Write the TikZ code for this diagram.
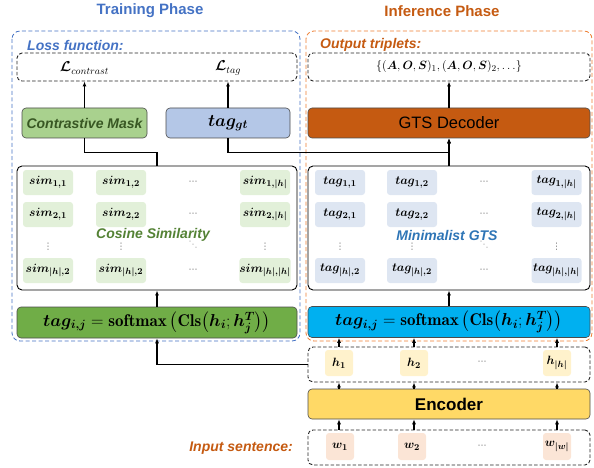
\documentclass[tikz,border=0pt]{standalone}
\usepackage{fontspec}
\usepackage{amsmath,bm}
\newfontfamily\arial{Liberation Sans}
\newfontfamily\dejavu{DejaVu Sans}
\usetikzlibrary{arrows.meta}
\definecolor{tblue}{HTML}{4472C4}
\definecolor{torange}{HTML}{C55A11}
\definecolor{oborder}{HTML}{ED7D31}
\definecolor{cosgreen}{HTML}{548235}
\definecolor{gtsblue}{HTML}{2E75B6}
\definecolor{cmtext}{HTML}{385723}
\definecolor{cmfill}{HTML}{A9D18E}
\definecolor{gtfill}{HTML}{B4C7E7}
\definecolor{decfill}{HTML}{C55A11}
\definecolor{smgreen}{HTML}{70AD47}
\definecolor{smblue}{HTML}{00B0F0}
\definecolor{encfill}{HTML}{FFD966}
\definecolor{hfill}{HTML}{FFF2CC}
\definecolor{wfill}{HTML}{FBE5D6}
\definecolor{simfill}{HTML}{E2F0D9}
\definecolor{tagfill}{HTML}{DEE6F2}
\tikzset{
  phasebox/.style={line width=0.8pt, dash pattern=on 4pt off 2.5pt, rounded corners=8pt},
  dbox/.style={draw=black!85, line width=0.9pt, dash pattern=on 3.5pt off 2pt, rounded corners=5pt, inner sep=0pt},
  cbox/.style={draw=black!70, line width=0.6pt, rounded corners=4pt, inner sep=0pt},
  mbox/.style={draw=black, line width=0.9pt, rounded corners=5pt, inner sep=0pt, minimum width=280pt, minimum height=124pt},
  cell/.style={rounded corners=3pt, minimum width=50pt, minimum height=25pt, inner sep=0pt, font=\fontsize{12.5}{14}\selectfont},
  simcell/.style={cell, fill=simfill},
  tagcell/.style={cell, fill=tagfill},
  hcell/.style={rounded corners=3pt, minimum width=28pt, minimum height=26pt, inner sep=0pt, fill=hfill, font=\fontsize{12.5}{14}\selectfont},
  wcell/.style={rounded corners=3pt, minimum width=28pt, minimum height=27pt, inner sep=0pt, fill=wfill, font=\fontsize{12.5}{14}\selectfont},
  lab/.style={inner sep=0pt, font=\arial\bfseries\itshape\fontsize{14}{16}\selectfont},
  dots/.style={inner sep=0pt, text=black!55, font=\dejavu\fontsize{9}{10}\selectfont},
  arr/.style={-{Latex[length=5pt,width=4pt]}, line width=1.1pt},
  conn/.style={line width=1.1pt}
}
\begin{document}
\begin{tikzpicture}[x=1pt,y=-1pt]
\useasboundingbox (0,0) rectangle (594,468);
% titles
\node[inner sep=0pt, text=tblue, font=\arial\bfseries\fontsize{15}{17}\selectfont] (ttrain) at (150,11) {Training Phase};
\node[inner sep=0pt, text=torange, font=\arial\bfseries\fontsize{15}{17}\selectfont] (tinf) at (442,11) {Inference Phase};
% phase boxes
\draw[phasebox, draw=tblue] (12,31) rectangle (300,341);
\draw[phasebox, draw=oborder] (306,31) rectangle (592,341);
% labels
\node[lab, text=tblue, anchor=west] (losslab) at (27,45) {Loss function:};
\node[lab, text=torange, anchor=west] (outlab) at (320,45) {Output triplets:};
\node[lab, text=torange, anchor=east] (inlab) at (293,448) {Input sentence:};
% top boxes
\node[dbox, minimum width=280pt, minimum height=28pt] (loss) at (157,67) {};
\node[inner sep=0pt, font=\fontsize{14}{16}\selectfont] (lc) at (84.5,68) {$\bm{\mathcal{L}}_{contrast}$};
\node[inner sep=0pt, font=\fontsize{14}{16}\selectfont] (lt) at (228,68) {$\bm{\mathcal{L}}_{tag}$};
\node[dbox, minimum width=282pt, minimum height=28pt, font=\fontsize{12.5}{14}\selectfont] (out) at (449,67) {$\{(\bm{A},\bm{O},\bm{S})_1,(\bm{A},\bm{O},\bm{S})_2,\ldots\}$};
% middle boxes
\node[cbox, fill=cmfill, minimum width=125pt, minimum height=30pt, text=cmtext, font=\arial\bfseries\itshape\fontsize{14}{16}\selectfont] (cmask) at (84.5,123) {Contrastive Mask};
\node[cbox, fill=gtfill, minimum width=124pt, minimum height=30pt, font=\fontsize{17}{19}\selectfont] (taggt) at (228,123) {$\bm{tag_{gt}}$};
\node[cbox, fill=decfill, minimum width=282pt, minimum height=30pt, font=\arial\fontsize{16.5}{18}\selectfont] (gts) at (449,123) {GTS Decoder};
% matrices
\node[mbox] (simbox) at (157,228) {};
\node[mbox, minimum width=282pt] (tagbox) at (449,228) {};
% sim cells
\node[simcell] (s11) at (48,182.5) {$\bm{sim_{1,1}}$};
\node[simcell] (s12) at (121,182.5) {$\bm{sim_{1,2}}$};
\node[dots] (sd1) at (193,182.5) {⋯};
\node[simcell] (s1h) at (265,182.5) {$\bm{sim_{1,|h|}}$};
\node[simcell] (s21) at (48,214.5) {$\bm{sim_{2,1}}$};
\node[simcell] (s22) at (121,214.5) {$\bm{sim_{2,2}}$};
\node[dots] (sd2) at (193,214.5) {⋯};
\node[simcell] (s2h) at (265,214.5) {$\bm{sim_{2,|h|}}$};
\node[dots] (sv1) at (48,247) {⋮};
\node[dots] (sv2) at (121,247) {⋮};
\node[dots, text=black!35] (sdd) at (193,245) {⋱};
\node[dots] (sv4) at (265,247) {⋮};
\node[simcell] (sh1) at (48,270.5) {$\bm{sim_{|h|,2}}$};
\node[simcell] (sh2) at (121,270.5) {$\bm{sim_{|h|,2}}$};
\node[dots] (sd4) at (193,270.5) {⋯};
\node[simcell] (shh) at (265,270.5) {$\bm{sim_{|h|,|h|}}$};
\node[lab, text=cosgreen] (coslab) at (153,235) {Cosine Similarity};
% tag cells
\node[tagcell] (t11) at (340,182.5) {$\bm{tag_{1,1}}$};
\node[tagcell] (t12) at (412,182.5) {$\bm{tag_{1,2}}$};
\node[dots] (td1) at (484,182.5) {⋯};
\node[tagcell] (t1h) at (556.5,182.5) {$\bm{tag_{1,|h|}}$};
\node[tagcell] (t21) at (340,214.5) {$\bm{tag_{2,1}}$};
\node[tagcell] (t22) at (412,214.5) {$\bm{tag_{2,2}}$};
\node[dots] (td2) at (484,214.5) {⋯};
\node[tagcell] (t2h) at (556.5,214.5) {$\bm{tag_{2,|h|}}$};
\node[dots] (tv1) at (340,247) {⋮};
\node[dots] (tv2) at (412,247) {⋮};
\node[dots, text=black!35] (tdd) at (484,245) {⋱};
\node[dots] (tv4) at (556.5,247) {⋮};
\node[tagcell] (th1) at (340,270.5) {$\bm{tag_{|h|,2}}$};
\node[tagcell] (th2) at (412,270.5) {$\bm{tag_{|h|,2}}$};
\node[dots] (td4) at (484,270.5) {⋯};
\node[tagcell] (thh) at (556.5,270.5) {$\bm{tag_{|h|,|h|}}$};
\node[lab, text=gtsblue] (gtslab) at (447,235) {Minimalist GTS};
% softmax bars
\node[cbox, fill=smgreen, minimum width=280pt, minimum height=31pt, font=\fontsize{17}{19}\selectfont] (smg) at (157,322.5) {$\bm{tag_{i,j}}=\mathbf{softmax}\left(\mathbf{Cls}\bigl(\bm{h_i};\bm{h_j^T}\bigr)\right)$};
\node[cbox, fill=smblue, minimum width=282pt, minimum height=31pt, font=\fontsize{17}{19}\selectfont] (smb) at (449,322) {$\bm{tag_{i,j}}=\mathbf{softmax}\left(\mathbf{Cls}\bigl(\bm{h_i};\bm{h_j^T}\bigr)\right)$};
% h row
\node[dbox, minimum width=282pt, minimum height=35pt] (hbox) at (449,364.5) {};
\node[hcell] (h1) at (339,363) {$\bm{h_1}$};
\node[hcell] (h2) at (414,363) {$\bm{h_2}$};
\node[dots] (hd) at (482,363) {⋯};
\node[hcell] (hh) at (557,363) {$\bm{h_{|h|}}$};
% encoder
\node[cbox, fill=encfill, minimum width=282pt, minimum height=30pt, font=\arial\bfseries\fontsize{17}{19}\selectfont] (enc) at (449,404) {Encoder};
% w row
\node[dbox, minimum width=282pt, minimum height=35pt] (wbox) at (449,447.5) {};
\node[wcell] (w1) at (340,446.5) {$\bm{w_1}$};
\node[wcell] (w2) at (412,446.5) {$\bm{w_2}$};
\node[dots] (wd) at (482,446.5) {⋯};
\node[wcell] (ww) at (557,446.5) {$\bm{w_{|w|}}$};
% connectors
\draw[arr] (cmask.north) -- (cmask.north |- loss.south);
\draw[arr] (taggt.north) -- (taggt.north |- loss.south);
\draw[arr] (gts.north) -- (out.south);
\draw[conn] (cmask.south) -- ++(0,14) -| (simbox.north);
\draw[arr] (taggt.south) -- ++(0,14) -| (gts.south);
\draw[arr] (tagbox.north) -- (gts.south);
\draw[arr] (smg.north) -- (simbox.south);
\draw[arr] (smb.north) -- (tagbox.south);
\draw[arr] (hbox.west) -| (smg.south);
\foreach \n in {h1,h2,hh}{
  \draw[arr] (\n |- hbox.north) -- (\n |- smb.south);
  \draw[arr] (\n |- enc.north) -- (\n |- hbox.south);
  \draw[arr] (\n |- wbox.north) -- (\n |- enc.south);
}
\end{tikzpicture}
\end{document}
